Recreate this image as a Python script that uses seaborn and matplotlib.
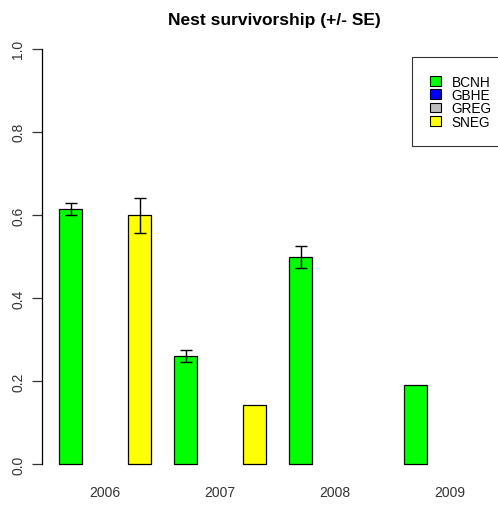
import numpy as np
import pandas as pd
import matplotlib
matplotlib.use("Agg")
import matplotlib.pyplot as plt
from matplotlib.patches import Patch
import seaborn as sns

years = ["2006", "2007", "2008", "2009"]
species = ["BCNH", "GBHE", "GREG", "SNEG"]
colors = {"BCNH": "#00FF00", "GBHE": "#0000FF", "GREG": "#BEBEBE", "SNEG": "#FFFF00"}

# nest survivorship and SE per species (NaN = no data / no error bar)
bcnh = [0.615, 0.261, 0.499, 0.190]
bcnh_se = [0.014, 0.014, 0.026, np.nan]
sneg = [0.599, 0.142, np.nan, np.nan]
sneg_se = [0.042, np.nan, np.nan, np.nan]

rows = []
for i, y in enumerate(years):
    rows.append((y, "BCNH", bcnh[i], bcnh_se[i]))
    rows.append((y, "SNEG", sneg[i], sneg_se[i]))
df = pd.DataFrame(rows, columns=["year", "species", "surv", "se"]).dropna(subset=["surv"])

plt.rcParams["font.family"] = ["Liberation Sans", "DejaVu Sans"]

W, H = 498, 506
fig = plt.figure(figsize=(W / 100, H / 100), dpi=100)
# axes in pixel coords (left, top, right, bottom)
l, t, r, b = 42, 33, 498, 482
ax = fig.add_axes([l / W, 1 - b / H, (r - l) / W, (b - t) / H])

sns.barplot(data=df, x="year", y="surv", hue="species", order=years,
            hue_order=species, palette=colors, width=0.8, errorbar=None,
            saturation=1, edgecolor="black", linewidth=0.9, legend=False, ax=ax)

# error bars at the dodged bar centres
for _, row in df.dropna(subset=["se"]).iterrows():
    xpos = years.index(row["year"]) + (species.index(row["species"]) - 1.5) * 0.2
    ax.errorbar(xpos, row["surv"], yerr=row["se"], fmt="none", ecolor="black",
                elinewidth=1, capsize=4.5, capthick=1)

ax.set_xlim(-0.548, 3.417)
ax.set_ylim(-0.04, 1.04)
ax.set_xlabel("")
ax.set_ylabel("")
for s in ["top", "right", "bottom"]:
    ax.spines[s].set_visible(False)
ax.spines["left"].set_bounds(0, 1)
ax.spines["left"].set_linewidth(0.9)
ax.set_yticks([0, 0.2, 0.4, 0.6, 0.8, 1.0])
ax.set_yticklabels(["0.0", "0.2", "0.4", "0.6", "0.8", "1.0"], rotation=90, va="center")
ax.tick_params(axis="y", length=7, width=0.9, labelsize=10, pad=5, colors="#333333")
ax.tick_params(axis="x", length=0, labelsize=10, pad=3, colors="#333333")
ax.set_facecolor("white")

fig.text(274 / W, 1 - 20 / H, "Nest survivorship (+/- SE)", ha="center", va="center",
         fontsize=12.5, fontweight="bold")

handles = [Patch(facecolor=colors[s], edgecolor="black", linewidth=0.8, label=s) for s in species]
leg = fig.legend(handles=handles, loc="upper left", bbox_to_anchor=(412 / W, 1 - 58 / H),
                 frameon=True, fancybox=False, edgecolor="black", fontsize=9.8,
                 handlelength=0.85, handleheight=0.7, handletextpad=0.75,
                 labelspacing=-0.05, borderpad=1.3, borderaxespad=0)
leg.get_frame().set_linewidth(0.8)

fig.savefig("out.png", dpi=100)
